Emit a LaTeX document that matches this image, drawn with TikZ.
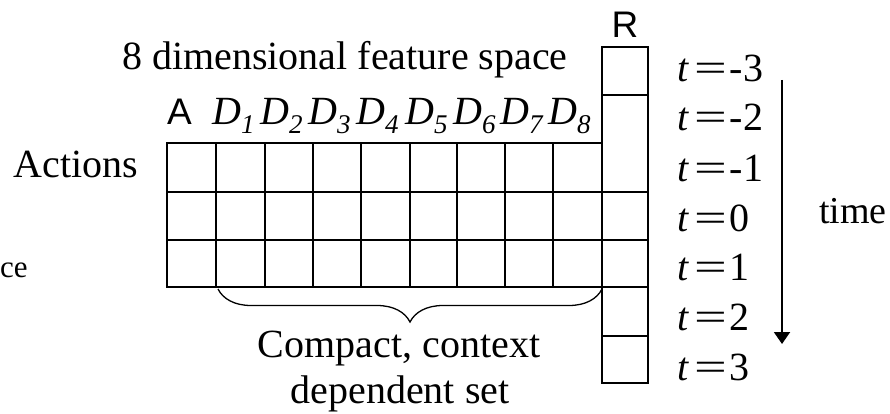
\documentclass[tikz,border=0pt]{standalone}
\usepackage{fontspec}
\usepackage{graphicx}
\setmainfont{Liberation Serif}
\newfontfamily\arialf{Liberation Sans}
\usetikzlibrary{decorations.pathreplacing,arrows.meta}
\tikzset{
  thinline/.style={line width=1.7pt},
  thickline/.style={line width=2.8pt},
  big/.style={font=\fontsize{40}{46}\selectfont, inner sep=0pt},
  sanslab/.style={font=\arialf\fontsize{37}{42}\selectfont, inner sep=0pt},
  dlab/.style={font=\fontsize{40}{46}\selectfont, inner sep=0pt, anchor=base west},
  tlab/.style={font=\fontsize{40}{46}\selectfont, inner sep=0pt, anchor=base west},
}
\newcommand{\dsub}[1]{\textit{D}\raisebox{-9pt}{\fontsize{27}{27}\selectfont\textit{#1}}}
\newcommand{\teq}[1]{\textit{t}\hspace{5pt}\scalebox{1.45}[1]{=}\hspace{3pt}#1}
\begin{document}
\begin{tikzpicture}[x=1pt,y=-1pt]
\useasboundingbox (0,0) rectangle (890,414);
% grid
\draw[thinline] (167,143) rectangle (602,287);
\draw[thinline] (602,47) rectangle (648,383);
\draw[thinline] (602,95) -- (648,95);
\draw[thinline] (216,143) -- (216,287);
\foreach \x in {265,313,361,410,457,505,553,602}
  \draw[thickline] (\x,143) -- (\x,287);
\foreach \y in {192,240}
  \draw[thickline] (167,\y) -- (648,\y);
\foreach \y in {287,336}
  \draw[thickline] (602,\y) -- (648,\y);
% labels
\node[big, anchor=base] (title) at (345,70) {8 dimensional feature space};
\node[sanslab, anchor=base] (alab) at (179.5,125) {A};
\node[sanslab, anchor=base] (rlab) at (625,38) {R};
\node[big, anchor=base] (actions) at (76,177) {Actions};
\node[font=\fontsize{31}{36}\selectfont, inner sep=0pt, anchor=base west] (ce) at (0,277) {ce};
\foreach \i/\x in {1/212,2/260,3/308,4/356,5/405,6/453,7/500,8/548}
  \node[dlab] (d\i) at (\x,125) {\dsub{\i}};
% time labels
\node[tlab] (tm3) at (677,82) {\teq{-3}};
\node[tlab] (tm2) at (677,131) {\teq{-2}};
\node[tlab] (tm1) at (677,181) {\teq{-1}};
\node[tlab] (t0) at (677,231) {\teq{0}};
\node[tlab] (t1) at (677,280) {\teq{1}};
\node[tlab] (t2) at (677,330) {\teq{2}};
\node[tlab] (t3) at (677,380) {\teq{3}};
\coordinate (arrtop) at (782,80);
\coordinate (arrbot) at (782,344);
\draw[line width=2pt, -{Triangle[length=12pt,width=16pt]}] (arrtop) -- (arrbot);
\node[font=\fontsize{38}{44}\selectfont, inner sep=0pt, anchor=base west] (time) at (819,223) {time};
% brace
\coordinate (bl) at (218,289);
\coordinate (br) at (602,289);
\draw[line width=1.3pt, decorate, decoration={brace, mirror, amplitude=33pt}] (bl) -- (br);
\node[big, anchor=base] (c1) at (399,357) {Compact, context};
\node[big, anchor=base] (c2) at (400,403) {dependent set};
\end{tikzpicture}
\end{document}
